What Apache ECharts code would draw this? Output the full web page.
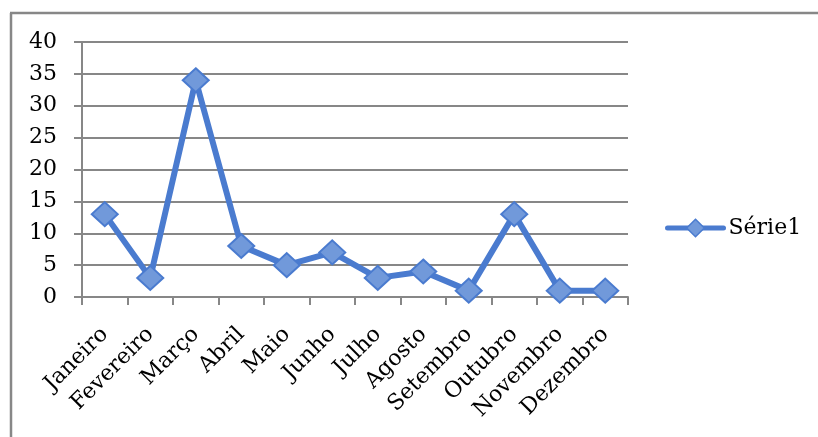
<!DOCTYPE html>
<html>
<head>
<meta charset="utf-8">
<script src="https://cdn.jsdelivr.net/npm/echarts@6/dist/echarts.min.js"></script>
<style>
  html, body { margin: 0; padding: 0; background: #ffffff; }
  #chart { width: 818px; height: 437px; }
</style>
</head>
<body>
<div id="chart"></div>
<script>
// Monthly counts
const months = ['Janeiro', 'Fevereiro', 'Março', 'Abril', 'Maio', 'Junho',
                'Julho', 'Agosto', 'Setembro', 'Outubro', 'Novembro', 'Dezembro'];
const serie1 = [13, 3, 34, 8, 5, 7, 3, 4, 1, 13, 1, 1];
const seriesName = 'Série1';
const yMin = 0, yMax = 40, yStep = 5;

const FONT = 'DejaVu Serif';
const AXIS_GREY = '#878787';
const LINE_BLUE = '#4a7bcf';
const MARK_FILL = '#7199da';

const chart = echarts.init(document.getElementById('chart'), null, { renderer: 'canvas' });

chart.setOption({
  animation: false,
  backgroundColor: '#ffffff',
  textStyle: { fontFamily: FONT, color: '#000' },
  graphic: [
    // frame around the chart area (left and top edges)
    { type: 'line', shape: { x1: 11, y1: 13, x2: 11, y2: 437 }, style: { stroke: AXIS_GREY, lineWidth: 2.5 } },
    { type: 'line', shape: { x1: 10, y1: 13, x2: 818, y2: 13 }, style: { stroke: AXIS_GREY, lineWidth: 2.5 } }
  ],
  grid: { left: 82, right: 190, top: 42, bottom: 140, containLabel: false },
  legend: {
    data: [seriesName],
    left: 665,
    top: 217,
    padding: 0,
    itemWidth: 56,
    itemHeight: 22,
    itemStyle: { color: MARK_FILL, borderColor: LINE_BLUE, borderWidth: 1.5 },
    lineStyle: { color: LINE_BLUE, width: 5, cap: 'round' },
    textStyle: { fontFamily: FONT, fontSize: 22, color: '#000' }
  },
  xAxis: {
    type: 'category',
    data: months,
    boundaryGap: true,
    axisLine: { lineStyle: { color: AXIS_GREY, width: 2 } },
    axisTick: { show: true, length: 8, lineStyle: { color: AXIS_GREY, width: 2 } },
    axisLabel: {
      interval: 0,
      rotate: 45,
      margin: 34,
      fontFamily: FONT,
      fontSize: 22,
      color: '#000'
    }
  },
  yAxis: {
    type: 'value',
    min: yMin,
    max: yMax,
    interval: yStep,
    axisLine: { show: true, lineStyle: { color: AXIS_GREY, width: 2 } },
    axisTick: { show: true, length: 8, lineStyle: { color: AXIS_GREY, width: 2 } },
    splitLine: { show: true, lineStyle: { color: AXIS_GREY, width: 2 } },
    axisLabel: { margin: 25, fontFamily: FONT, fontSize: 22, color: '#000' }
  },
  series: [{
    name: seriesName,
    type: 'line',
    data: serie1,
    symbol: 'diamond',
    symbolSize: [26, 24],
    lineStyle: { color: LINE_BLUE, width: 6 },
    itemStyle: { color: MARK_FILL, borderColor: LINE_BLUE, borderWidth: 2 }
  }]
});
</script>
</body>
</html>
